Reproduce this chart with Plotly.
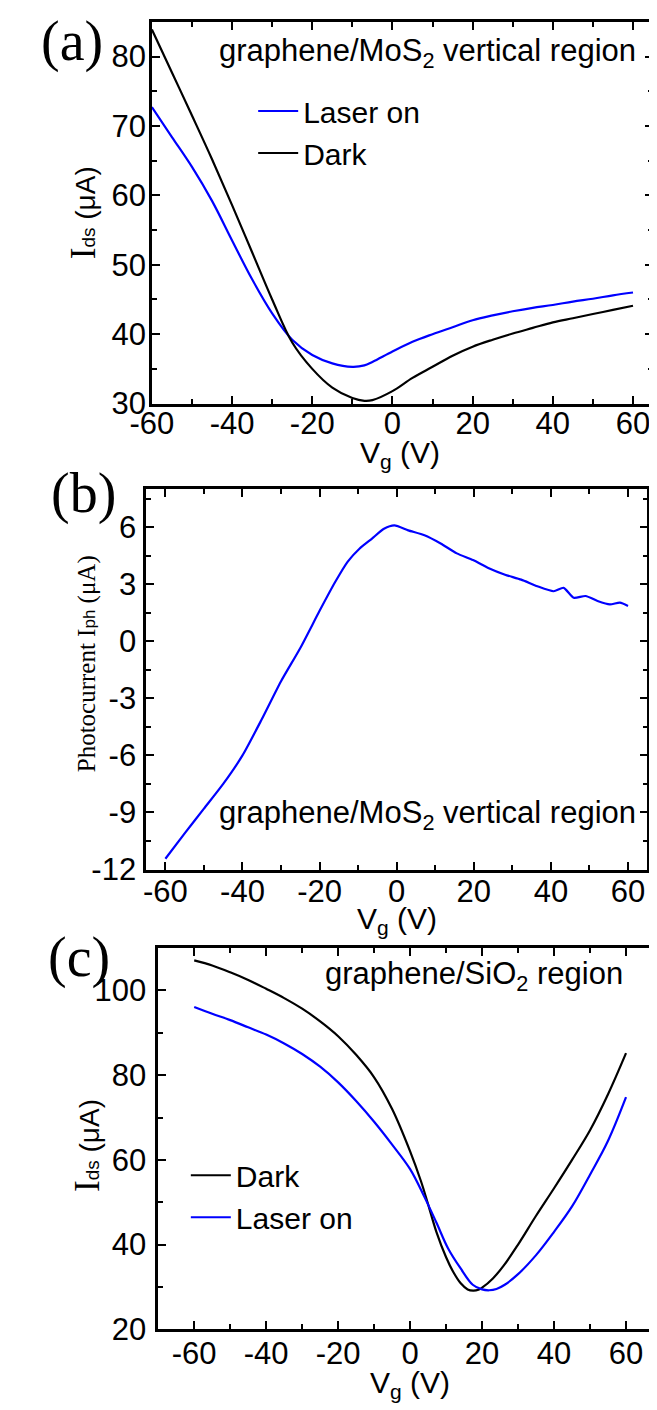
import plotly.graph_objects as go

W, H = 657, 1410

# ---------------- data ----------------
# (a) graphene/MoS2 vertical region
vg_a_dark = [-60, -55, -50, -45, -40, -35, -30, -25, -20, -15, -10, -7, -5, 0, 5, 10, 15, 20, 25, 30, 35, 40, 45, 50, 55, 60]
ids_a_dark = [83.9, 77.7, 71.5, 65.2, 58.6, 51.8, 45.0, 38.8, 35.0, 32.3, 30.8, 30.4, 30.5, 31.8, 33.7, 35.3, 36.9, 38.2, 39.2, 40.1, 40.9, 41.7, 42.3, 42.9, 43.5, 44.1]
vg_a_laser = [-60, -55, -50, -45, -40, -35, -30, -25, -20, -15, -10, -7, -5, 0, 5, 10, 15, 20, 25, 30, 35, 40, 45, 50, 55, 60]
ids_a_laser = [72.7, 68.4, 64.1, 59.2, 53.5, 47.9, 43.0, 39.2, 37.0, 35.8, 35.3, 35.5, 36.0, 37.5, 38.9, 40.0, 41.0, 42.0, 42.7, 43.3, 43.8, 44.2, 44.7, 45.1, 45.6, 46.0]

# (b) photocurrent
vg_b = [-60, -55, -50, -45, -40, -35, -30, -25, -20, -16, -12.7, -9.6, -6.4, -3.3, -0.6, 3, 7.2, 11.4, 15.6, 19.8, 23.9, 28.1, 32.3, 36.5, 40.7, 43.3, 45.9, 49, 52.1, 55.3, 57.9, 60]
iph_b = [-11.43, -10.1, -8.8, -7.5, -6.0, -4.1, -2.1, -0.35, 1.6, 3.1, 4.19, 4.88, 5.4, 5.91, 6.09, 5.83, 5.57, 5.14, 4.62, 4.27, 3.84, 3.5, 3.24, 2.89, 2.63, 2.81, 2.29, 2.38, 2.12, 1.94, 2.03, 1.86]

# (c) graphene/SiO2 region
vg_c_dark = [-60, -55, -50, -45, -40, -35, -30, -25, -20, -15, -10, -5, 0, 3, 5, 7.3, 10, 12, 14, 16, 17.5, 19, 20, 23, 26, 30, 35, 40, 45, 50, 55, 60]
ids_c_dark = [107.1, 105.9, 104.3, 102.5, 100.4, 98.2, 95.7, 92.7, 89.2, 84.8, 79.5, 72.0, 62.0, 55.0, 49.5, 43.0, 37.0, 33.5, 30.9, 29.4, 29.1, 29.3, 29.8, 32.0, 35.0, 40.0, 46.8, 53.3, 60.0, 67.0, 75.5, 85.2]
vg_c_laser = [-60, -55, -50, -45, -40, -35, -30, -25, -20, -15, -10, -5, 0, 4, 7.3, 10.6, 14, 17.4, 20, 22, 24, 26.3, 30, 35, 40, 45, 50, 55, 60]
ids_c_laser = [96.1, 94.5, 93.0, 91.3, 89.6, 87.5, 85.0, 82.0, 78.3, 73.9, 69.0, 63.6, 57.8, 51.2, 45.2, 39.0, 34.4, 30.5, 29.4, 29.2, 29.5, 30.5, 33.0, 37.5, 43.0, 49.0, 56.5, 64.5, 74.8]

# tick labels
x_tickvals = [-60, -40, -20, 0, 20, 40, 60]
x_ticktext = ["-60", "-40", "-20", "0", "20", "40", "60"]
ya_tickvals = [30, 40, 50, 60, 70, 80]
ya_ticktext = ["30", "40", "50", "60", "70", "80"]
yb_tickvals = [-12, -9, -6, -3, 0, 3, 6]
yb_ticktext = ["-12", "-9", "-6", "-3", "0", "3", "6"]
yc_tickvals = [20, 40, 60, 80, 100]
yc_ticktext = ["20", "40", "60", "80", "100"]

BLUE = "#0000ff"
BLACK = "#000000"
SANS = "Liberation Sans, Arial, sans-serif"
SERIF = "Liberation Serif, Times New Roman, serif"


def px_x(p):
    return p / W


def px_y(p):
    return 1 - p / H


fig = go.Figure()
line_kw = dict(width=2.2, shape="spline", smoothing=1.0)

fig.add_trace(go.Scatter(x=vg_a_laser, y=ids_a_laser, mode="lines", name="Laser on",
                         line=dict(color=BLUE, **line_kw), xaxis="x", yaxis="y", legend="legend"))
fig.add_trace(go.Scatter(x=vg_a_dark, y=ids_a_dark, mode="lines", name="Dark",
                         line=dict(color=BLACK, **line_kw), xaxis="x", yaxis="y", legend="legend"))
fig.add_trace(go.Scatter(x=vg_b, y=iph_b, mode="lines", name="Photocurrent", showlegend=False,
                         line=dict(color=BLUE, width=2.2, shape="spline", smoothing=0.6),
                         xaxis="x2", yaxis="y2"))
fig.add_trace(go.Scatter(x=vg_c_dark, y=ids_c_dark, mode="lines", name="Dark",
                         line=dict(color=BLACK, **line_kw), xaxis="x3", yaxis="y3", legend="legend2"))
fig.add_trace(go.Scatter(x=vg_c_laser, y=ids_c_laser, mode="lines", name="Laser on",
                         line=dict(color=BLUE, **line_kw), xaxis="x3", yaxis="y3", legend="legend2"))

TICKSIZE = 31


def axis(domain, rng, vals, texts, mdtick, anchor, standoff):
    return dict(domain=domain, range=rng, tickmode="array", tickvals=vals, ticktext=texts,
                anchor=anchor,
                showline=True, mirror="ticks", linecolor="black", linewidth=2.5,
                ticks="inside", ticklen=8, tickwidth=2, tickcolor="black",
                minor=dict(tickmode="linear", tick0=0, dtick=mdtick, ticks="inside",
                           ticklen=5, tickwidth=2, tickcolor="black"),
                showgrid=False, zeroline=False, ticklabelstandoff=standoff,
                tickfont=dict(family=SANS, size=TICKSIZE, color="black"))


fig.update_layout(
    width=W, height=H, margin=dict(l=0, r=0, t=0, b=0),
    paper_bgcolor="white", plot_bgcolor="white", showlegend=True,
    xaxis=axis([px_x(126.7), px_x(647.7)], [-60, 65], x_tickvals, x_ticktext, 10, "y", -10),
    yaxis=axis([px_y(400.7), px_y(14)], [30, 85], ya_tickvals, ya_ticktext, 5, "x", -3),
    xaxis2=axis([px_x(120.7), px_x(641.7)], [-65, 65], x_tickvals, x_ticktext, 10, "y2", -8),
    yaxis2=axis([px_y(872.7), px_y(487.3)], [-12, 8], yb_tickvals, yb_ticktext, 1.5, "x2", 1),
    xaxis3=axis([px_x(133.3), 1.0], [-70, 70], x_tickvals, x_ticktext, 10, "y3", -5),
    yaxis3=axis([px_y(1338.3), px_y(952.3)], [20, 110], yc_tickvals, yc_ticktext, 10, "x3", 3),
    legend=dict(x=px_x(232), y=px_y(78), xanchor="left", yanchor="top",
                font=dict(family=SANS, size=30, color="black"), bgcolor="rgba(0,0,0,0)",
                itemwidth=40, tracegroupgap=0, traceorder="normal"),
    legend2=dict(x=px_x(162), y=px_y(1156), xanchor="left", yanchor="top",
                 font=dict(family=SANS, size=30, color="black"), bgcolor="rgba(0,0,0,0)",
                 itemwidth=40, tracegroupgap=0, traceorder="normal"),
)

ann = []


def add(text, x, y, size=30, family=SANS, angle=0, xanchor="center", yanchor="middle"):
    ann.append(dict(text=text, x=px_x(x), y=px_y(y), xref="paper", yref="paper",
                    showarrow=False, textangle=angle, xanchor=xanchor, yanchor=yanchor,
                    font=dict(family=family, size=size, color="black")))


# panel labels
add("(a)", 44, 34, size=56, family=SERIF)
add("(b)", 56, 492, size=56, family=SERIF)
add("(c)", 51, 962, size=56, family=SERIF)

# region notes
add("graphene/MoS<sub>2</sub> vertical region", 413, 46, size=31)
add("graphene/MoS<sub>2</sub> vertical region", 413, 817, size=31)
add("graphene/SiO<sub>2</sub> region", 462, 981, size=31)

# y titles
ids_title = ("<span style='font-family:Liberation Serif;font-size:35px'>I</span>"
             "<span style='font-size:19px'>ds</span> (μA)")
add(ids_title, 55, 207, size=28, angle=-90)
add(ids_title, 60, 1152, size=28, angle=-90)
iph_title = ("Photocurrent I<span style='font-family:Liberation Sans;font-size:17px'>ph</span> (μA)")
add(iph_title, 59, 664, size=25, family=SERIF, angle=-90)

# x titles
vg_title = "V<sub>g</sub> (V)"
add(vg_title, 385, 452)
add(vg_title, 381, 924)
add(vg_title, 395, 1394)

fig.update_layout(annotations=ann)
fig.write_html("out.html")
